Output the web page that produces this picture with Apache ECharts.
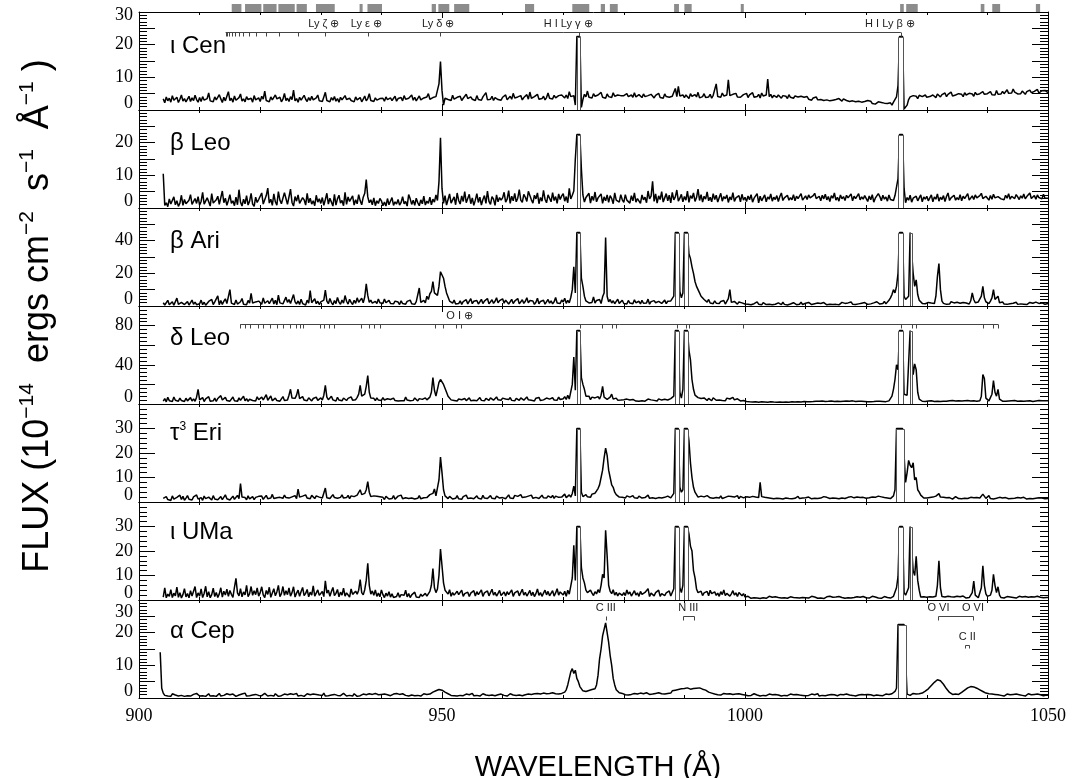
<!DOCTYPE html>
<html><head><meta charset="utf-8">
<script src="https://cdn.jsdelivr.net/npm/echarts@6/dist/echarts.min.js"></script>
<style>html,body{margin:0;padding:0;background:#fff}#c{width:1073px;height:778px}</style>
</head><body><div id="c"></div>
<script>
// ---------------- DATA ----------------
// Flux (1e-14 ergs cm^-2 s^-1 Å^-1). Each row covers 10 Å starting at 900, 910, ... sampled every 0.25 Å.
const WL_START = 900, ROW_SPAN = 10, WL_STEP = 0.25;
const N = null;
const iotaCen = [
[N,N,N,N,N,N,N,N,N,N,N,N,N,N,N,N,3.4,2.2,4.0,2.8, 3.6,2.4,4.4,3.0,2.6,3.9,2.3,3.3,4.6,2.7,3.5,2.5,3.1,4.2,2.6,3.7,2.9,4.5,3.2,2.4],
[3.8,2.6,4.1,3.0,2.4,3.5,5.2,2.8,3.3,2.5,4.0,3.1,2.7,4.7,3.4,2.3,3.9,2.8,3.2,5.6, 2.9,3.6,2.4,4.3,3.0,2.6,3.8,4.9,2.7,3.4,2.5,4.1,3.2,2.8,3.6,2.4,4.4,3.1,2.9,3.7],
[2.6,4.2,3.3,5.8,2.9,3.5,2.5,4.0,3.1,2.7,4.6,3.4,2.8,3.9,2.5,3.3,5.1,2.9,3.6,2.6, 4.1,3.2,6.1,2.8,3.5,2.4,3.9,3.0,2.7,4.5,3.3,2.6,3.8,2.9,4.2,3.1,2.5,3.7,4.6,2.8],
[3.4,2.6,4.0,5.4,2.9,3.3,2.5,3.8,3.0,4.1,2.7,3.5,2.4,3.9,3.1,2.8,4.4,3.2,2.6,3.6, 2.9,3.4,2.5,4.0,3.1,2.7,3.8,2.5,3.3,4.3,2.8,3.5,5.0,2.9,3.2,2.6,3.7,3.0,2.8,3.5],
[3.1,3.6,2.7,4.0,3.2,2.8,3.7,2.9,3.4,4.2,2.7,3.5,3.0,3.8,2.8,4.4,3.3,2.9,3.6,3.1, 4.6,3.0,3.9,2.8,3.4,4.3,3.1,2.9,3.7,3.2,4.0,5.0,3.3,2.9,3.8,3.4,4.1,3.5,8.0,14.8],
[6.0,1.5,3.6,4.1,3.2,3.8,2.9,4.5,3.3,3.0,3.9,3.4,4.2,2.9,3.6,3.1,4.8,3.5,3.0,4.0, 3.3,3.7,2.9,4.4,3.2,3.6,3.0,4.0,3.4,5.3,3.1,3.7,3.3,4.2,2.9,3.8,4.4,3.2,3.6,3.0],
[3.9,3.4,4.6,3.1,3.6,4.2,3.3,5.1,3.7,3.2,4.0,3.5,4.4,3.1,3.8,3.4,4.7,3.3,5.5,3.6, 3.2,4.1,3.7,4.8,3.3,3.9,3.5,4.2,3.1,3.8,5.2,3.6,4.0,3.4,4.5,3.7,3.3,4.4,3.9,4.6],
[4.2,3.7,4.6,3.5,5.6,4.1,3.6,4.4,1.5,22.5,22.5,22.5,0.8,3.2,4.8,4.0,5.8,3.9,4.5,3.7, 5.0,4.2,3.8,4.6,4.0,5.4,3.9,4.3,3.6,4.9,4.1,4.5,3.8,5.3,4.2,3.7,4.6,4.0,4.4,3.9],
[4.4,3.8,5.0,4.1,3.7,4.6,3.9,5.3,4.0,3.6,4.7,4.2,3.8,4.9,4.1,3.5,4.4,3.9,4.8,4.2, 3.7,4.5,4.0,5.1,3.8,4.3,3.6,4.9,4.1,4.6,3.9,4.4,4.2,3.8,6.6,4.1,7.2,4.3,3.9,4.6],
[3.8,4.6,4.1,3.5,5.0,4.2,3.9,4.7,4.0,5.4,3.7,4.3,4.1,5.0,3.8,4.4,4.0,4.8,3.6,4.5, 4.2,8.0,4.1,4.7,3.9,5.2,4.3,4.0,4.6,9.2,4.4,3.9,4.8,4.2,5.1,4.0,4.6,3.9,4.3,4.7],
[4.2,5.1,3.8,4.6,4.0,5.3,3.9,4.4,4.1,4.8,3.7,5.2,4.3,3.9,4.6,9.5,4.1,4.8,3.7,4.5, 4.3,3.9,4.6,4.0,3.6,4.4,3.8,4.2,3.5,4.7,3.9,4.1,3.6,4.3,3.8,4.0,3.4,4.2,3.7,3.9],
[3.5,4.1,3.3,3.9,3.0,3.7,3.4,4.0,3.1,3.6,3.2,3.8,2.9,3.5,3.1,3.4,2.8,3.3,3.0,3.6, 3.2,2.8,3.5,3.0,2.7,3.4,3.1,2.9,3.3,2.6,3.2,2.8,3.0,2.5,3.1,2.7,2.9,2.4,3.0,2.6],
[2.6,2.9,2.3,2.7,2.0,2.4,1.8,2.2,2.5,1.9,2.3,1.7,2.1,1.6,2.0,1.8,2.2,1.5,2.4,3.0, 4.0,7.5,22.5,22.5,22.5,0.3,0.2,1.5,3.2,4.0,3.6,4.4,3.8,4.2,3.5,4.5,3.9,4.1,3.7,4.6],
[3.9,4.5,4.1,3.7,4.6,4.2,3.8,4.9,4.3,4.0,4.7,4.4,5.2,4.1,4.8,4.5,5.5,4.3,4.9,4.6, 4.2,5.0,4.4,4.8,4.1,5.3,4.6,4.3,5.1,4.5,4.9,4.2,5.4,4.7,4.4,5.0,4.6,5.6,4.8,4.5],
[5.0,4.4,5.6,4.7,5.1,4.6,6.0,4.8,5.3,4.9,5.7,5.0,5.4,6.2,5.1,5.6,5.2,6.4,5.5,5.8, 4.9,5.4,5.0,5.8,5.2,4.8,5.6,5.1,6.1,5.3,5.0,5.7,5.4,6.3,5.2,5.5,5.9,5.3,6.0,5.6],
[5.3]];
const betaLeo = [
[N,N,N,N,N,N,N,N,N,N,N,N,N,N,N,N,10.5,0.8,1.6,0.4, 2.8,1.2,0.6,3.4,1.0,2.2,0.5,1.5,3.9,0.8,2.6,1.3,0.7,2.4,4.1,1.1,0.6,2.9,1.4,3.5],
[0.9,2.0,4.8,1.2,0.7,3.1,1.9,0.6,4.4,1.5,0.9,2.5,3.6,1.1,0.5,5.2,1.6,3.0,0.8,2.3, 4.1,1.4,2.2,0.7,3.3,1.0,5.6,1.8,0.6,2.7,1.3,3.8,0.9,2.1,4.5,1.2,0.5,3.3,1.7,2.6],
[2.0,4.6,1.2,0.6,3.8,6.1,1.5,2.7,0.8,4.3,1.9,0.9,5.0,2.4,1.3,0.7,4.7,2.9,1.1,3.4, 5.8,1.7,0.6,3.5,2.1,4.0,1.4,0.8,3.2,2.5,0.9,4.5,1.6,3.0,1.2,2.2,0.7,3.9,1.8,2.8],
[1.4,3.2,0.8,2.6,4.5,1.2,3.0,1.8,0.6,4.2,0.9,2.8,3.9,1.5,2.3,0.7,4.8,1.1,3.4,2.0, 1.6,3.7,0.9,2.5,1.3,4.1,2.2,1.0,3.3,4.5,8.7,3.4,1.6,2.5,1.0,3.1,0.7,2.2,1.4,2.9],
[2.2,0.7,1.8,0.6,2.9,1.0,1.5,3.2,0.8,1.9,1.2,2.6,0.9,1.7,3.5,1.3,2.0,0.6,4.1,2.8, 1.1,2.4,0.8,3.0,1.6,0.7,2.5,1.3,3.6,0.9,2.1,1.4,3.3,1.0,2.7,1.8,4.0,2.3,8.0,21.5],
[6.0,1.4,3.8,0.9,2.6,4.3,1.5,2.1,3.4,1.0,4.6,2.3,1.2,3.7,2.0,5.0,1.6,2.9,4.2,1.3, 3.1,0.8,2.4,4.4,1.7,3.3,0.9,2.6,3.8,1.4,5.2,2.0,1.1,3.5,2.7,0.8,4.0,1.9,3.2,2.4],
[3.1,4.8,1.8,2.7,5.3,1.4,3.6,2.2,4.5,1.9,3.0,5.6,2.4,1.7,4.2,3.3,2.0,5.1,3.8,2.5, 1.5,3.9,2.8,4.6,1.3,3.2,2.1,5.4,2.7,1.6,4.0,3.0,1.9,4.7,2.3,3.5,1.4,4.3,2.6,3.7],
[4.4,2.1,3.5,1.6,6.0,2.8,3.9,5.2,15.0,22.5,22.5,22.5,12.0,4.0,1.8,3.2,2.7,4.5,1.5,3.6, 2.3,4.9,1.9,3.1,2.6,4.3,1.4,3.4,2.2,4.0,1.7,3.8,2.9,1.3,4.6,2.4,3.0,1.8,4.1,2.5],
[1.7,4.1,2.4,3.0,1.5,3.8,2.2,4.6,1.8,2.9,3.5,1.4,4.0,2.5,3.3,1.6,5.2,2.8,3.6,8.2, 2.0,4.3,1.5,3.7,2.6,5.0,1.8,3.1,4.4,2.2,3.9,1.6,4.8,2.5,3.4,5.5,2.1,3.0,4.2,1.9],
[3.5,2.4,5.2,1.7,3.8,2.9,4.6,2.0,3.2,5.8,2.3,4.1,1.8,3.6,2.7,4.9,2.2,3.3,1.9,4.4, 2.6,3.9,1.8,3.2,4.5,2.1,3.5,2.8,4.0,1.7,3.4,2.5,4.7,2.0,3.1,2.6,3.8,1.9,4.2,2.4],
[3.3,2.0,3.7,2.5,4.1,1.8,3.0,2.6,4.4,1.6,3.6,2.2,3.1,4.0,1.9,3.4,2.7,4.3,2.1,3.3, 2.6,3.8,2.0,3.5,4.6,2.3,3.1,2.8,3.9,2.4,3.2,2.5,4.1,2.2,3.6,2.9,3.3,4.4,2.4,3.0],
[3.7,2.6,4.0,3.1,2.7,3.8,4.5,2.9,3.4,3.6,2.2,3.9,2.8,4.2,2.5,3.5,2.0,3.8,3.0,4.6, 2.4,3.3,2.1,4.0,2.8,3.5,2.3,3.9,3.1,2.6,4.3,2.2,3.6,2.9,3.2,4.4,2.5,3.4,2.7,3.8],
[3.3,2.0,3.7,2.5,4.1,1.8,3.0,2.6,4.4,3.5,2.2,3.9,2.7,3.4,2.1,4.0,2.6,3.1,2.3,3.8, 3.5,9.0,22.5,22.5,22.5,6.0,1.6,3.2,2.4,3.9,1.8,3.0,2.5,3.6,2.2,3.1,4.0,1.9,3.4,2.7],
[3.6,2.2,3.1,4.0,1.9,3.4,2.7,4.3,2.1,3.3,2.6,3.8,2.0,3.5,4.6,2.3,3.1,2.8,3.9,2.4, 3.2,2.5,4.1,2.2,3.6,2.9,3.3,4.4,2.4,3.0,3.7,2.6,4.0,3.1,2.7,3.8,4.5,2.9,3.4,3.6],
[3.0,2.4,3.8,2.7,4.2,3.1,2.6,3.5,4.0,2.8,3.3,2.5,3.9,3.0,4.4,2.7,3.6,3.2,2.9,4.1, 3.4,2.6,3.7,3.0,4.3,2.8,3.5,3.1,4.6,2.9,3.3,3.8,2.7,4.0,3.2,3.6,2.8,4.2,3.0,3.4],
[3.0]];
const betaAri = [
[N,N,N,N,N,N,N,N,N,N,N,N,N,N,N,N,2.0,0.6,1.4,3.5, 0.8,1.9,2.6,0.5,1.5,4.8,1.0,0.7,2.2,3.1,0.9,1.6,2.7,0.6,1.3,3.6,1.1,2.4,0.8,1.8],
[1.4,3.6,0.8,2.3,0.5,1.2,2.8,1.6,4.0,0.9,2.5,1.3,6.2,0.7,3.3,1.0,2.9,4.4,1.5,0.6, 10.0,1.8,2.4,0.9,3.7,1.2,0.6,2.6,4.6,1.1,2.0,0.8,3.4,1.7,7.8,1.8,0.9,2.5,1.4,3.0],
[2.4,1.1,5.0,1.7,0.6,3.2,1.4,2.6,4.8,1.2,3.5,0.8,6.6,1.9,2.8,1.3,0.7,5.4,2.2,3.9, 1.6,0.8,7.0,2.5,1.2,3.1,0.9,4.2,1.5,2.7,0.6,3.6,1.8,9.5,2.0,1.1,4.4,1.4,2.9,0.9],
[2.5,1.3,3.6,9.8,3.0,1.4,4.6,2.1,0.8,3.3,1.5,5.2,2.4,1.0,3.7,1.8,6.4,2.9,1.2,4.1, 2.2,0.9,3.5,1.6,5.0,2.3,1.1,4.8,2.0,5.5,13.5,6.5,2.2,3.6,1.7,0.8,2.8,1.5,4.3,2.0],
[2.8,1.5,4.3,2.0,1.2,3.4,1.6,2.5,1.3,3.0,1.8,2.4,0.9,3.2,1.5,2.2,1.1,2.8,1.9,3.6, 1.4,2.3,1.0,2.7,3.5,11.0,2.2,1.6,3.5,1.9,6.0,4.0,7.5,9.0,15.0,8.0,9.0,6.5,12.0,21.0],
[19.0,17.0,12.0,8.0,5.5,3.0,4.2,1.8,3.6,1.2,2.4,1.5,3.2,1.0,2.7,1.6,3.9,1.3,2.2,4.5, 1.4,2.9,1.7,3.4,1.2,2.6,4.1,1.5,3.0,1.8,4.6,1.3,2.5,3.8,1.6,2.9,5.0,1.9,3.3,2.1],
[4.4,1.7,3.6,2.4,1.2,2.6,4.1,1.5,3.0,1.8,4.6,1.3,2.5,3.8,1.6,2.9,5.0,1.9,3.3,2.1, 3.1,1.0,2.3,4.7,1.4,2.8,1.9,3.5,1.1,2.2,4.0,1.7,3.2,1.3,2.6,5.2,1.8,2.9,1.5,3.7],
[2.4,4.8,1.6,3.5,2.0,5.2,10.0,24.0,8.0,45,45,45,17.0,12.0,6.0,3.1,4.2,1.9,3.1,2.2, 5.6,1.8,3.4,2.5,4.0,1.5,5.6,8.0,42.0,6.0,2.5,4.0,1.8,3.2,1.4,2.8,4.1,1.6,2.3,3.5],
[1.5,2.6,1.2,3.4,1.8,2.3,1.4,3.8,2.0,1.6,2.9,1.3,3.5,1.7,2.4,1.9,4.2,1.1,2.7,1.5, 3.3,2.0,1.2,2.8,4.0,1.6,2.2,3.6,1.4,2.9,1.8,3.1,4.2,6.0,45,45,45,9.0,5.0,8.0],
[45,45,45,32.0,29.0,24.0,20.0,15.0,12.0,10.0,8.0,6.0,5.0,4.0,3.5,2.4,4.0,1.8,2.6,1.4, 3.2,1.7,2.2,1.5,2.8,1.6,3.4,1.2,2.0,4.5,10.0,2.2,1.5,2.8,1.6,1.1,2.5,1.3,1.9,0.9],
[1.2,2.3,1.0,1.8,0.8,2.0,1.4,0.9,2.5,1.1,1.6,0.7,2.1,1.3,0.9,1.7,1.0,2.2,0.8,1.5, 1.1,0.7,1.9,1.2,0.8,2.3,1.0,1.5,0.6,1.8,1.2,0.9,2.0,1.4,0.8,1.6,1.1,2.4,0.9,1.3],
[1.7,1.0,2.2,1.3,0.9,1.9,1.4,2.6,1.8,1.0,1.5,0.8,2.1,1.2,0.7,1.6,1.1,2.3,0.9,1.4, 1.0,1.8,0.7,1.3,2.2,1.0,1.6,0.8,1.9,1.2,2.5,1.1,1.5,0.9,2.0,1.3,0.8,1.7,1.2,2.1],
[1.7,1.0,2.2,1.3,0.9,1.9,1.4,2.6,1.8,1.2,2.0,1.5,2.8,1.3,2.2,3.5,5.0,7.0,10.0,8.0, 12.0,20.0,45,45,45,6.0,4.0,5.0,6.0,45,45,20.0,12.0,16.0,7.0,3.5,2.5,1.6,2.2,1.4],
[1.4,2.2,1.1,1.8,2.6,1.5,6.0,18.0,26.0,10.0,3.0,1.6,2.4,1.0,1.8,1.2,2.6,1.5,1.9,1.1, 2.3,1.4,1.7,1.0,2.1,1.3,1.8,2.5,1.2,3.2,8.0,4.0,2.0,1.6,2.5,1.3,6.0,12.0,5.0,2.6],
[2.2,1.5,3.0,5.0,10.0,4.0,3.0,6.0,2.0,1.4,2.5,1.2,1.8,1.0,2.1,1.4,0.9,1.7,1.2,2.3, 1.0,1.6,1.3,2.0,1.1,1.8,0.9,1.5,2.2,1.2,1.7,1.0,2.4,1.3,1.6,0.9,1.9,1.4,1.1,2.0],
[1.5]];
const deltaLeo = [
[N,N,N,N,N,N,N,N,N,N,N,N,N,N,N,N,3.0,5.5,2.2,6.8, 3.4,4.5,2.6,7.2,3.8,5.0,2.9,6.1,3.5,4.8,2.5,5.9,3.2,4.2,6.5,3.0,5.2,2.8,7.0,15.0],
[4.2,3.1,6.5,2.5,5.2,3.6,7.5,2.8,4.4,3.3,6.0,2.6,5.6,3.9,8.5,4.1,3.0,6.8,3.5,5.3, 2.9,4.6,7.2,3.4,5.0,2.7,6.2,3.8,4.5,8.0,3.2,5.5,2.8,4.9,6.6,3.6,5.1,3.0,7.4,4.3],
[2.9,7.0,4.3,3.2,9.5,3.8,5.0,8.2,3.4,4.7,6.0,3.5,5.4,2.9,4.8,7.6,3.6,5.3,4.0,9.0, 15.0,6.0,4.2,5.8,9.0,15.0,5.5,3.6,7.5,4.0,5.8,3.3,6.4,4.5,3.1,5.6,4.1,7.0,3.7,5.0],
[6.2,4.0,9.0,19.0,7.0,4.4,3.5,8.0,4.2,5.5,3.1,6.9,4.0,5.2,3.3,6.1,4.8,3.6,5.7,4.2, 7.3,3.9,5.0,4.4,6.8,10.0,19.0,8.0,6.0,10.0,18.0,29.0,12.0,6.0,4.5,5.8,3.4,6.2,4.0,5.1],
[3.6,6.4,4.1,3.0,5.3,3.8,4.6,2.9,6.0,3.5,4.3,3.1,5.0,3.4,4.8,3.2,7.0,4.0,5.6,3.3, 4.9,3.7,6.2,4.4,3.1,5.5,3.9,4.7,3.0,6.3,4.2,5.0,7.0,12.0,27.0,14.0,8.0,15.0,22.0,25.0],
[24.0,20.0,22.0,12.0,8.0,6.0,4.2,5.5,3.6,4.8,3.0,5.1,3.8,4.4,2.9,5.6,3.5,4.0,6.3,3.3, 4.7,3.9,5.2,3.4,4.5,6.6,3.7,4.9,3.2,5.8,4.1,3.6,6.2,4.4,3.9,5.0,7.2,4.3,5.5,3.8],
[6.0,4.6,5.2,3.4,4.5,6.6,3.7,4.9,3.2,5.8,4.1,3.6,6.2,4.4,3.9,5.0,7.2,4.3,5.5,3.8, 4.8,3.1,5.9,4.0,6.7,3.5,5.3,4.2,3.7,6.1,4.5,5.0,3.4,6.4,4.1,5.6,3.9,7.0,4.6,5.2],
[5.4,7.5,4.6,9.0,5.0,6.5,20.0,48.0,14.0,75,75,75,27.0,20.0,15.0,8.0,6.0,8.0,4.5,7.0, 5.0,6.2,4.4,7.5,5.0,9.0,18.0,7.0,6.5,4.8,5.5,7.0,10.0,5.0,4.6,6.0,3.9,5.2,4.1,3.6],
[4.4,3.2,5.0,3.6,4.1,2.8,4.7,3.5,3.0,4.3,2.7,3.9,3.3,4.6,2.9,3.8,5.0,3.4,4.2,2.9, 3.7,4.5,3.1,5.2,3.6,4.0,2.8,4.8,3.4,4.1,3.0,5.5,4.2,8.0,75,75,75,12.0,6.0,15.0],
[75,75,75,55.0,45.0,25.0,15.0,9.0,7.0,6.5,4.8,5.6,3.9,6.2,4.4,3.6,5.8,4.1,3.3,6.4, 4.6,3.8,5.2,4.0,5.9,3.5,4.7,3.2,6.0,4.3,5.1,3.7,6.8,4.2,3.4,5.3,4.0,3.1,4.6,3.6],
[3.5,2.6,3.0,2.2,3.4,2.0,2.8,2.4,3.2,1.9,2.7,2.3,3.1,2.1,2.5,1.8,2.9,2.2,2.6,2.0, 2.4,1.9,2.8,2.1,2.5,1.7,2.3,2.0,2.7,1.8,2.4,2.2,2.9,2.0,2.6,2.3,3.0,2.1,2.8,2.5],
[2.6,2.2,3.1,2.4,2.9,2.5,3.2,2.7,2.0,2.8,2.3,3.0,2.1,2.6,1.9,2.7,2.4,3.1,2.2,2.5, 2.0,2.9,2.3,2.6,1.8,2.8,2.4,3.0,2.1,2.7,2.5,3.2,2.2,2.6,2.0,2.9,2.4,2.7,2.1,2.5],
[2.6,2.2,3.1,2.4,2.9,2.5,3.2,2.7,2.3,2.8,2.1,2.6,3.0,2.4,2.7,3.2,4.0,8.0,15.0,25.0, 40.0,35.0,75,75,75,10.0,8.0,9.0,10.0,75,75,30.0,41.0,35.0,12.0,5.0,3.5,2.8,3.1,2.6],
[2.5,3.0,2.7,3.3,2.9,2.6,3.4,2.8,3.1,2.6,3.2,2.9,3.5,2.7,3.0,3.3,2.8,3.6,2.5,3.1, 2.8,3.4,2.6,3.0,2.7,3.3,2.9,3.5,2.6,3.1,2.8,3.2,3.0,2.7,3.4,3.2,8.0,30.0,26.0,6.0],
[4.0,3.2,3.5,10.0,24.0,12.0,8.0,15.0,5.0,3.4,2.9,3.2,2.7,3.5,3.0,2.8,3.3,2.9,3.6,3.1, 2.8,3.4,3.0,3.2,2.7,3.5,3.1,2.9,3.4,3.0,2.6,3.3,3.1,2.8,3.5,3.0,3.2,2.9,3.4,3.1],
[3.2]];
const tau3Eri = [
[N,N,N,N,N,N,N,N,N,N,N,N,N,N,N,N,1.5,0.8,2.2,1.0, 1.7,0.6,2.5,1.2,0.9,1.9,1.3,2.8,1.0,2.3,0.7,1.6,2.6,1.1,1.8,0.8,2.1,1.4,2.9,1.2],
[1.1,1.8,0.7,2.4,1.4,1.0,2.0,1.5,0.8,2.6,1.2,1.9,0.9,1.6,2.2,1.0,1.7,2.9,1.3,2.1, 0.8,1.5,2.4,1.1,1.9,2.7,1.4,7.5,2.0,1.2,1.8,0.9,2.5,1.3,1.6,2.2,1.0,1.9,1.4,2.3],
[1.5,2.4,1.1,1.8,2.7,1.3,2.0,1.6,3.1,1.4,2.2,1.7,1.2,1.9,2.5,1.5,2.8,1.8,2.3,1.6, 1.3,2.1,1.7,2.6,1.4,5.3,2.0,1.5,2.4,1.8,2.9,1.6,2.2,1.3,2.7,1.9,1.4,2.5,1.7,2.0],
[2.0,1.6,2.4,5.7,1.7,2.4,1.4,2.1,3.0,1.8,2.6,1.5,2.2,1.9,2.9,1.6,2.3,1.8,2.7,1.4, 2.5,1.7,2.2,1.5,2.8,3.2,5.0,3.0,2.4,3.5,5.0,8.3,4.0,2.2,1.6,2.5,1.9,2.3,1.5,2.1],
[1.3,1.9,1.0,2.3,1.5,1.2,2.0,1.4,2.6,1.1,1.8,2.4,1.6,2.8,1.3,2.1,1.7,2.5,1.4,2.0, 1.6,2.3,1.2,1.9,1.5,2.6,1.3,2.0,1.7,2.4,1.8,2.2,3.0,2.5,3.5,5.3,2.5,3.0,9.0,18.3],
[12.0,5.0,2.5,1.8,1.4,2.3,1.6,1.2,2.0,1.5,2.6,1.3,1.9,1.1,2.2,1.7,2.8,1.4,2.1,1.6, 2.4,1.3,1.8,2.5,1.5,2.0,1.2,2.7,1.6,2.2,1.4,1.9,2.6,1.5,2.1,1.3,2.4,1.8,1.6,2.3],
[1.8,2.5,1.3,2.0,2.9,1.6,2.2,1.4,2.7,1.9,2.3,1.5,3.0,1.8,2.6,2.0,1.7,2.4,2.1,2.8, 1.5,2.2,1.9,2.6,1.4,2.1,2.8,1.7,2.3,1.6,2.5,2.0,1.8,2.7,1.5,2.4,2.2,1.9,2.6,2.0],
[2.3,3.2,1.8,2.5,2.9,2.0,3.5,6.5,2.5,30,30,30,4.0,2.2,1.8,3.0,2.1,2.7,1.9,3.2, 2.6,3.6,4.5,5.5,7.0,10.0,13.0,18.0,22.0,19.0,13.0,10.0,7.0,6.0,4.0,3.0,2.5,2.0,2.8,1.9],
[2.2,1.6,2.5,1.8,2.0,1.4,2.6,1.7,2.1,1.5,2.4,1.9,1.6,2.3,1.8,2.0,2.8,1.5,2.2,1.7, 2.5,1.4,2.0,1.8,2.6,1.6,2.3,1.9,1.5,2.4,2.0,1.7,2.6,3.5,30,30,30,6.0,4.0,5.0],
[30,30,30,25.0,16.0,10.0,6.0,4.0,3.0,2.0,1.6,2.4,1.8,2.1,1.5,2.6,1.9,1.7,2.3,1.5, 2.0,1.8,2.2,1.6,2.5,1.4,2.1,1.9,1.6,2.4,1.7,2.2,1.5,2.0,1.8,2.6,1.4,2.3,1.9,1.7],
[1.6,2.1,1.4,1.9,1.7,2.3,1.5,2.0,1.3,1.8,8.0,2.2,1.4,1.9,1.2,1.7,2.0,1.5,1.8,1.3, 1.9,1.5,2.1,1.4,1.7,1.2,1.9,1.6,2.2,1.4,1.8,1.3,2.0,1.5,1.7,2.3,1.4,1.9,1.6,1.5],
[1.7,1.4,2.0,1.6,1.3,1.9,1.5,2.1,1.4,1.8,1.6,1.3,2.2,1.5,1.9,1.7,1.4,2.0,1.6,1.8, 1.5,2.1,1.3,1.8,1.6,2.0,1.4,1.7,1.9,1.3,2.2,1.5,1.7,1.4,2.0,1.6,1.8,1.3,1.9,1.5],
[1.5,2.1,1.7,1.4,2.0,1.6,1.9,1.3,2.4,1.7,2.1,1.5,1.8,2.3,1.6,2.0,1.4,2.2,2.5,5.0, 30,30,30,30,30,30,8.0,12.0,17.0,15.0,14.0,16.0,9.0,10.0,5.0,4.0,2.8,2.0,1.6,2.2],
[1.6,2.2,1.8,1.4,2.0,1.5,2.4,3.0,3.4,2.0,1.5,1.9,1.4,1.7,1.3,1.8,1.5,1.2,1.9,2.2, 1.6,1.4,1.8,1.3,1.7,1.5,2.0,1.4,1.6,1.9,1.3,1.7,1.5,1.8,1.4,1.6,2.2,3.2,2.4,1.5],
[2.1,2.6,1.4,1.7,1.2,1.8,1.5,1.3,1.9,1.4,1.6,1.2,1.8,1.5,1.3,1.7,1.4,1.6,1.5,1.2, 1.8,1.4,1.6,1.3,1.9,1.5,1.2,1.7,1.4,1.6,1.3,1.8,1.5,1.4,1.7,1.2,1.6,1.5,1.3,1.7],
[1.4]];
const iotaUMa = [
[N,N,N,N,N,N,N,N,N,N,N,N,N,N,N,N,1.2,5.0,0.9,2.4, 1.5,4.2,1.0,2.8,1.7,5.3,1.1,3.0,0.8,2.2,4.6,1.3,2.6,0.9,3.8,1.6,2.1,5.5,1.0,2.9],
[1.6,4.5,1.0,2.7,5.6,1.3,3.4,0.9,2.2,4.8,1.4,3.1,1.0,2.5,5.0,1.2,3.6,2.0,4.4,1.5, 3.9,2.3,1.1,5.2,8.8,2.9,1.7,4.6,1.3,3.3,2.1,6.0,1.4,2.6,5.5,1.9,3.8,2.2,4.9,1.6],
[3.0,5.4,2.1,1.0,3.9,2.3,5.2,1.1,2.9,4.6,1.7,3.3,6.0,1.4,2.6,5.5,1.9,3.8,2.2,4.9, 1.6,3.0,5.4,1.2,2.8,4.0,1.5,3.5,5.1,1.8,2.7,4.3,1.3,3.2,2.0,5.8,1.6,2.4,4.1,1.9],
[2.1,3.5,1.4,7.8,2.8,4.0,1.5,3.5,5.1,1.8,2.7,4.3,1.3,3.2,2.0,4.8,1.6,2.9,3.7,1.2, 4.5,2.3,1.8,3.6,2.4,4.0,8.3,3.0,2.1,4.2,8.0,15.0,6.0,2.4,3.7,1.9,4.1,1.5,2.8,1.3],
[4.1,2.2,1.0,2.8,1.6,3.4,1.2,2.5,1.0,1.8,1.4,3.0,1.1,2.2,1.5,1.9,4.0,1.3,2.6,1.0, 2.1,1.4,3.2,1.2,1.8,1.0,2.4,1.5,1.1,2.7,1.6,2.0,3.5,6.0,12.8,5.0,3.0,4.5,10.0,20.8],
[14.0,7.0,4.0,3.5,2.4,4.2,1.5,3.0,2.0,1.3,3.6,2.2,1.7,4.0,1.5,2.6,1.9,3.2,1.4,2.8, 2.1,3.8,1.6,3.4,2.2,1.8,4.1,1.5,2.9,2.3,3.7,1.7,2.5,4.4,2.0,3.1,1.6,2.7,3.9,1.8],
[2.4,3.3,1.6,3.4,2.2,1.8,4.1,1.5,2.9,2.3,3.7,1.7,2.5,4.4,2.0,3.1,1.6,2.7,3.9,1.8, 3.2,1.4,2.6,4.5,1.9,3.0,1.5,2.8,4.0,2.1,3.5,1.7,2.4,3.8,1.6,2.9,4.6,2.0,3.3,2.6],
[2.0,3.6,1.5,4.0,2.4,3.2,9.0,22.3,8.0,30,30,30,13.2,9.0,7.0,4.0,3.0,2.2,4.0,2.8, 1.8,3.4,2.5,4.2,3.0,6.0,10.5,9.0,28.5,18.0,6.0,3.5,2.6,4.2,2.0,3.1,1.7,2.8,3.6,1.9],
[3.0,1.8,4.1,2.4,3.3,1.6,2.7,3.8,2.0,2.9,1.5,3.5,2.3,1.9,3.1,2.5,4.6,1.4,2.8,3.6, 1.7,3.0,2.2,4.0,1.5,2.6,3.3,1.8,2.9,2.1,3.7,1.6,2.4,4.6,30,30,30,5.0,3.0,6.0],
[30,30,30,27.0,22.0,20.0,12.0,9.0,4.5,3.0,2.2,3.6,1.8,2.9,2.4,3.5,1.7,4.0,2.6,2.0, 3.3,1.9,2.8,1.5,3.4,2.2,4.1,1.8,2.7,3.2,1.6,2.5,3.8,2.0,2.9,1.4,3.1,2.3,1.7,2.6],
[1.2,0.8,1.5,1.0,0.7,1.3,0.9,1.6,0.8,1.1,0.6,1.4,0.9,1.2,0.7,1.0,1.5,0.8,1.1,0.9, 1.3,0.7,1.0,1.4,0.8,1.2,0.9,1.5,0.7,1.1,1.3,0.8,1.0,1.6,0.9,1.2,0.8,1.4,1.0,1.1],
[0.9,1.3,0.8,1.1,1.5,0.9,1.2,1.0,0.7,1.4,0.8,1.2,0.6,1.0,1.3,0.9,1.5,0.8,1.1,0.7, 1.2,0.9,1.4,0.8,1.0,1.3,0.7,1.1,0.9,1.5,0.8,1.2,1.0,0.7,1.3,0.9,1.1,0.8,1.4,1.0],
[0.9,1.3,0.8,1.1,1.5,0.9,1.2,1.0,0.8,1.2,0.7,1.1,1.4,0.9,1.0,1.3,0.8,1.2,1.5,2.0, 5.0,9.5,30,30,30,3.0,2.0,3.5,5.0,30,30,12.0,10.0,17.8,8.0,4.0,1.2,0.9,1.3,0.8],
[1.1,0.8,1.3,0.9,1.2,1.0,1.5,6.0,16.0,5.0,1.4,0.9,1.2,0.8,1.5,1.0,1.3,0.9,1.2,0.8, 1.5,1.0,1.3,0.9,1.6,1.2,0.8,1.4,1.0,1.2,3.0,7.7,2.0,1.3,0.9,1.2,5.0,14.0,6.0,2.5],
[1.5,1.2,2.0,4.0,10.5,6.0,3.0,5.4,2.0,1.0,1.3,0.8,1.1,1.4,0.9,1.2,0.7,1.0,1.3,0.8, 1.1,1.5,0.9,1.2,0.8,1.4,1.0,1.1,0.7,1.3,0.9,1.2,1.0,1.5,0.8,1.1,1.3,0.9,1.2,1.0],
[1.0]];
const alphaCep = [
[N,N,N,N,N,N,N,N,N,N,N,N,N,N,14.0,3.0,1.5,0.8,1.2,0.6, 1.0,0.5,1.3,0.7,0.9,1.4,0.6,1.1,0.8,1.2,0.5,1.0,0.7,1.3,0.6,0.9,1.1,0.5,1.4,0.8],
[0.6,1.0,0.7,1.2,0.5,0.9,1.3,0.6,1.0,0.7,1.2,0.5,0.9,1.4,0.6,1.1,0.8,0.5,1.3,0.7, 1.0,0.6,1.2,0.8,0.5,1.1,0.9,0.6,1.2,0.8,1.5,0.6,1.0,0.7,1.3,0.9,0.6,1.1,1.6,0.8],
[1.2,0.7,1.0,1.4,0.9,0.6,1.2,0.8,1.0,0.6,1.3,0.8,0.5,1.1,0.7,0.9,1.2,0.6,1.0,0.8, 1.3,0.7,1.1,0.9,1.4,0.6,1.0,0.8,1.2,0.5,0.9,1.3,0.7,1.0,0.6,1.2,0.8,1.1,0.7,0.9],
[1.2,0.8,1.5,0.6,1.0,0.7,1.3,0.9,0.6,1.1,1.6,0.8,1.2,0.7,1.0,1.4,0.9,0.6,1.2,0.8, 1.0,0.6,1.3,0.8,0.5,1.1,0.7,0.9,1.2,0.6,1.0,0.8,1.3,0.7,1.1,0.9,1.4,0.8,1.0,0.7],
[1.1,0.7,1.2,0.6,1.0,1.3,0.7,0.9,1.2,0.8,1.4,0.9,1.1,0.7,1.3,1.0,0.8,1.2,0.6,1.0, 0.9,1.3,0.7,1.1,0.8,1.2,0.6,1.0,1.3,0.9,1.1,1.4,1.2,1.5,1.8,1.6,2.2,2.0,2.6,2.8],
[2.4,2.6,1.8,1.5,1.3,1.0,0.8,1.2,0.7,1.0,0.6,1.1,0.8,1.3,0.7,0.9,1.2,0.6,1.0,0.8, 1.4,0.7,1.1,0.8,1.2,0.6,1.0,1.3,0.7,0.9,1.2,0.8,1.4,0.9,1.1,0.7,1.3,1.0,0.8,1.2],
[1.1,0.8,1.2,0.6,1.0,1.3,0.7,0.9,1.2,0.8,1.4,0.9,1.1,0.7,1.3,1.0,0.8,1.2,1.5,1.1, 0.9,1.3,1.0,1.4,0.8,1.2,1.0,1.5,1.1,1.3,0.9,1.4,1.2,1.6,1.0,1.3,1.5,1.2,1.7,1.4],
[1.4,1.8,2.5,4.0,6.0,8.0,9.0,7.5,8.5,6.0,5.0,3.5,3.0,2.2,1.8,2.0,1.6,2.3,1.9,2.6, 2.2,2.8,4.0,7.0,12.0,15.0,19.0,21.0,23.0,20.0,17.0,13.0,10.0,6.0,4.0,2.5,2.0,1.6,1.8,1.4],
[1.2,1.0,1.4,0.9,1.3,1.1,1.0,1.4,0.9,1.2,1.1,1.5,1.0,1.3,1.2,1.6,1.3,1.1,1.5,1.2, 1.0,1.4,1.2,1.6,1.1,1.3,1.5,1.2,1.6,1.4,1.8,1.5,2.2,1.9,2.4,2.1,2.6,2.3,2.8,2.5],
[2.9,2.6,3.1,2.8,2.7,3.2,2.9,2.6,3.0,2.8,3.1,2.5,2.7,2.3,2.4,2.0,1.8,1.9,1.5,1.6, 1.2,1.4,1.0,1.3,0.9,1.1,1.4,0.8,1.2,1.0,1.3,0.9,1.1,0.8,1.2,1.0,1.3,0.7,1.1,0.9],
[0.9,1.2,0.7,1.1,0.8,1.0,1.3,0.7,0.9,1.2,0.6,1.0,0.8,1.1,0.7,0.9,1.2,0.6,1.0,0.8, 1.1,0.7,0.9,1.2,0.6,1.0,0.8,1.1,0.7,0.9,1.2,0.6,1.0,0.8,1.1,0.7,0.9,1.2,0.8,1.0],
[0.7,1.1,0.8,1.0,1.2,0.7,1.0,0.9,1.3,0.6,1.1,0.8,1.0,0.7,1.2,0.9,0.6,1.1,0.8,1.0, 1.2,0.7,0.9,1.1,0.6,1.0,0.8,1.2,0.7,0.9,1.1,0.8,1.0,0.6,1.2,0.9,0.7,1.1,0.8,1.0],
[0.7,1.1,0.8,1.0,1.2,0.7,1.0,0.9,1.3,0.8,1.1,0.7,1.0,1.2,0.8,1.1,0.9,1.3,1.6,2.0, 3.0,22.5,22.5,22.5,22.5,22.5,22.5,1.2,1.0,0.8,1.1,1.4,1.0,1.2,0.9,1.3,1.1,1.5,1.8,2.1],
[2.4,2.8,3.2,3.8,4.4,4.8,5.4,5.6,5.8,5.3,5.0,4.2,3.6,2.8,2.2,1.7,1.4,1.1,1.0,1.2, 0.9,1.1,1.4,1.7,2.0,2.4,2.8,3.1,3.4,3.5,3.6,3.4,3.2,3.0,2.8,2.5,2.4,2.0,1.8,1.5],
[1.8,1.3,1.0,1.2,0.8,1.1,0.7,1.0,1.3,0.8,1.1,0.6,0.9,1.2,0.7,1.0,0.8,1.1,0.9,1.2, 0.7,1.0,1.2,0.8,1.1,0.6,0.9,1.3,0.8,1.0,0.7,1.1,0.9,1.2,0.8,1.0,1.3,0.7,1.1,0.9],
[0.8]];

const starNames = ['ι Cen', 'β Leo', 'β Ari', 'δ Leo', '{a|τ}{s|3}{a| Eri}', 'ι UMa', 'α Cep'];
const spectra = [iotaCen, betaLeo, betaAri, deltaLeo, tau3Eri, iotaUMa, alphaCep];
const yMax = [30, 30, 60, 100, 40, 40, 30];
const yTickStep = [5, 5, 10, 20, 10, 10, 5];
const yTickLabels = [[0,10,20,30],[0,10,20],[0,20,40],[0,40,80],[0,10,20,30],[0,10,20,30],[0,10,20,30]];
const xRange = [900, 1050];
const xTickStep = 50;
// saturated (clipped) lines drawn as open boxes: [from Å, to Å]
const clipLevel = [22.5, 22.5, 45, 75, 30, 30, 22.5];
const clipBoxes = [
  [[972.25,972.8],[1025.3,1026.05]],
  [[972.25,972.8],[1025.3,1026.05]],
  [[972.25,972.8],[988.4,989.05],[990.0,990.55],[1025.3,1026.05],[1027.2,1027.55]],
  [[972.25,972.8],[988.4,989.05],[990.0,990.55],[1025.3,1026.05],[1027.2,1027.55]],
  [[972.25,972.8],[988.4,989.05],[990.0,990.55],[1024.95,1026.3]],
  [[972.25,972.8],[988.4,989.05],[990.0,990.55],[1025.3,1026.05],[1027.2,1027.55]],
  [[1025.2,1026.55]]
];
// grey wavelength bands above the top panel
const greyBands = [[915.3,916.9],[917.5,920.2],[920.5,922.7],[923.0,925.7],[926.0,927.7],[929.2,932.3],
  [936.4,936.9],[937.7,940.1],[948.3,949.0],[949.4,951.2],[952.0,954.5],[963.7,965.2],[971.5,974.3],
  [976.2,976.9],[977.7,979.0],[988.3,989.1],[990.0,991.2],[999.3,999.8],[1025.6,1026.2],[1026.6,1028.5],
  [1038.9,1039.5],[1040.8,1042.1],[1048.0,1048.7]];
// H I Lyman series (Å)
const lymanLines = [1025.72, 972.54, 949.74, 937.80, 930.75, 926.23, 923.15, 920.96, 919.35, 918.13,
  917.18, 916.43, 915.82, 915.33, 914.92, 914.58, 914.29];
const lymanLabels = [[930.75,'Ly ζ ⊕'],[937.80,'Ly ε ⊕'],[949.74,'Ly δ ⊕'],[972.54,'H I Ly γ ⊕'],[1025.72,'H I Ly β ⊕']];
// O I airglow lines (Å)
const oiLines = [916.7,917.5,918.3,919.7,920.5,921.6,922.7,923.8,924.9,925.9,926.6,927.1,929.9,930.6,931.4,932.2,
  936.6,938.0,938.8,939.7,948.8,950.2,952.3,953.1,972.8,976.4,978.0,978.7,988.7,990.3,990.8,999.6,
  1025.8,1027.6,1028.2,1039.3,1041.0,1041.8];
const oiLabel = [950.88, 'O I ⊕'];
// stellar emission line identifications (alpha Cep)
const ionTicks = [977.02];
const ionBrackets = [[989.80, 991.51], [1031.93, 1037.62]];
const ionLabels = [[977.02,'C III'],[990.65,'N III'],[1031.93,'O VI'],[1037.62,'O VI']];
const ciiBracket = [[1036.34, 1037.02]];
const ciiLabel = [[1036.68, 'C II']];

// ---------------- LAYOUT / STYLE ----------------
const SANS = 'Liberation Sans, Arial, Helvetica, sans-serif';
const SERIF = 'Liberation Serif, Times New Roman, serif';
const LEFT = 139, RIGHT = 25, TOP = 12, PANEL_H = 98;
const LYMAN_LEVEL = 24, OI_LEVEL = 82, ION_LEVEL = 25, CII_LEVEL = 16.2;
const zeroShift = 7, topShift = [3, 0, 0, 0, 0, 0, 12];
const nameOffset = [34, 33, 33, 32, 29, 30, 31];
const ANN = '#444';
const LINE_W = 1.5;

const grids = [], xAxes = [], yAxes = [], series = [];
const crisp = v => Math.round(v) + 0.5;

function toPoints(rows) {
  const pts = [];
  rows.forEach((row, r) => row.forEach((v, k) => pts.push([WL_START + r * ROW_SPAN + k * WL_STEP, v])));
  return pts;
}
function custom(gi, data, renderItem, extra) {
  return Object.assign({type: 'custom', coordinateSystem: 'cartesian2d', xAxisIndex: 2 * gi, yAxisIndex: 2 * gi,
    silent: true, animation: false, z: 5, clip: false, data: data, renderItem: renderItem}, extra || {});
}

spectra.forEach((rows, i) => {
  const last = i === spectra.length - 1;
  grids.push({left: LEFT, right: RIGHT, top: TOP + i * PANEL_H, height: PANEL_H, containLabel: false, outerBoundsMode: 'none'});
  const xBase = {
    type: 'value', gridIndex: i, min: xRange[0], max: xRange[1], interval: xTickStep,
    axisLine: {show: true, onZero: false, lineStyle: {color: '#000', width: 1}},
    axisTick: {show: true, inside: true, length: 6, lineStyle: {color: '#000', width: 1}},
    minorTick: {show: true, splitNumber: 5, length: 3, lineStyle: {color: '#000', width: 1}},
    splitLine: {show: false}, minorSplitLine: {show: false}
  };
  xAxes.push(Object.assign({}, xBase, {position: 'bottom',
    axisLabel: {show: last, margin: 9, color: '#000', fontFamily: SERIF, fontSize: 18, showMinLabel: true, showMaxLabel: true,
      formatter: v => String(v)}}));
  xAxes.push(Object.assign({}, xBase, {position: 'top', axisLabel: {show: false}}));
  const labs = yTickLabels[i];
  const topLab = labs[labs.length - 1];
  const isShifted = v => v === 0 || (v === topLab && topShift[i] > 0);
  const yBase = {
    type: 'value', gridIndex: i, min: 0, max: yMax[i], interval: yTickStep[i],
    axisLine: {show: true, onZero: false, lineStyle: {color: '#000', width: 1}},
    axisTick: {show: true, inside: true, length: 16, lineStyle: {color: '#000', width: 1}},
    minorTick: {show: true, splitNumber: 5, length: 8, lineStyle: {color: '#000', width: 1}},
    splitLine: {show: false}, minorSplitLine: {show: false}
  };
  yAxes.push(Object.assign({}, yBase, {position: 'left',
    axisLabel: {show: true, margin: 6, color: '#000', fontFamily: SERIF, fontSize: 18, hideOverlap: false,
      formatter: v => (labs.indexOf(v) < 0 || isShifted(v)) ? '' : String(v)}}));
  yAxes.push(Object.assign({}, yBase, {position: 'right', axisLabel: {show: false}}));

  const xi = 2 * i, yi = 2 * i;
  series.push({
    type: 'line', xAxisIndex: xi, yAxisIndex: yi, showSymbol: false, symbol: 'none', silent: true,
    animation: false, connectNulls: false, clip: true, z: 2, sampling: null,
    lineStyle: {color: '#000', width: LINE_W},
    data: toPoints(rows)
  });
  series.push({
    type: 'custom', coordinateSystem: 'cartesian2d', xAxisIndex: xi, yAxisIndex: yi, silent: true, animation: false, z: 3,
    encode: {x: [0, 1], y: 2},
    data: clipBoxes[i].map(b => [b[0], b[1], clipLevel[i]]),
    renderItem: (params, api) => {
      const a = api.coord([api.value(0), 0]), b = api.coord([api.value(1), api.value(2)]);
      const x0 = crisp(a[0]), x1 = crisp(b[0]), y0 = a[1], y1 = crisp(b[1]);
      return {type: 'group', children: [
        {type: 'rect', shape: {x: x0, y: y1, width: x1 - x0, height: y0 - y1}, style: {fill: '#fff'}},
        {type: 'polyline', shape: {points: [[x0, y0], [x0, y1], [x1, y1], [x1, y0]]}, style: {stroke: '#555', lineWidth: 1, fill: null}}
      ]};
    }
  });
  const shifted = labs.filter(isShifted);
  series.push(custom(i, shifted.map(v => [xRange[0], v]), (p, api) => {
    const v = api.value(1);
    const a = api.coord([api.value(0), v]);
    const dy = v === 0 ? -zeroShift : topShift[i];
    return {type: 'text', x: a[0] - 6, y: a[1] + dy,
      style: {text: String(v), fill: '#000', font: '18px ' + SERIF, fontSize: 18, fontFamily: SERIF,
        align: 'right', verticalAlign: 'middle', textAlign: 'right', textVerticalAlign: 'middle'}};
  }));
});

function ruleWithTicks(gi, lines, level, tickLen) {
  const lo = Math.min.apply(null, lines), hi = Math.max.apply(null, lines);
  series.push(custom(gi, [[lo, hi, level]], (p, api) => {
    const a = api.coord([api.value(0), api.value(2)]), b = api.coord([api.value(1), api.value(2)]);
    return {type: 'line', shape: {x1: a[0], y1: crisp(a[1]), x2: b[0], y2: crisp(a[1])}, style: {stroke: ANN, lineWidth: 1}};
  }, {encode: {x: [0, 1], y: 2}}));
  series.push(custom(gi, lines.map(w => [w, level]), (p, api) => {
    const a = api.coord([api.value(0), api.value(1)]);
    return {type: 'line', shape: {x1: crisp(a[0]), y1: crisp(a[1]), x2: crisp(a[0]), y2: crisp(a[1]) + tickLen}, style: {stroke: ANN, lineWidth: 1}};
  }));
}
function labels(gi, items, level, align, dx, dy, size) {
  series.push(custom(gi, items.map((l, k) => [l[0], level, k]), (p, api) => {
    const a = api.coord([api.value(0), api.value(1)]);
    const t = items[api.value(2)][1];
    return {type: 'text', x: a[0] + dx, y: a[1] + dy,
      style: {text: t, fill: '#222', font: size + 'px ' + SANS, fontSize: size, fontFamily: SANS,
        align: align, verticalAlign: 'middle', textAlign: align, textVerticalAlign: 'middle'}};
  }));
}
function brackets(gi, items, level, legLen) {
  series.push(custom(gi, items.map(b => [b[0], b[1], level]), (p, api) => {
    const a = api.coord([api.value(0), api.value(2)]), b = api.coord([api.value(1), api.value(2)]);
    const y = crisp(a[1]), x0 = crisp(a[0]), x1 = crisp(b[0]);
    return {type: 'polyline', shape: {points: [[x0, y + legLen], [x0, y], [x1, y], [x1, y + legLen]]}, style: {stroke: ANN, lineWidth: 1, fill: null}};
  }, {encode: {x: [0, 1], y: 2}}));
}

series.push(custom(0, greyBands.map(b => [b[0], b[1], yMax[0]]), (p, api) => {
  const a = api.coord([api.value(0), api.value(2)]), b = api.coord([api.value(1), api.value(2)]);
  return {type: 'rect', shape: {x: a[0], y: a[1] - 8, width: Math.max(1, b[0] - a[0]), height: 8}, style: {fill: '#8c8c8c'}};
}, {encode: {x: [0, 1], y: 2}}));
ruleWithTicks(0, lymanLines, LYMAN_LEVEL, 4);
labels(0, lymanLabels, LYMAN_LEVEL, 'right', 14, -8, 11);
ruleWithTicks(3, oiLines, OI_LEVEL, 4);
labels(3, [oiLabel], OI_LEVEL, 'left', -1, -8, 11);
series.push(custom(6, ionTicks.map(w => [w, ION_LEVEL]), (p, api) => {
  const a = api.coord([api.value(0), api.value(1)]);
  return {type: 'line', shape: {x1: crisp(a[0]), y1: crisp(a[1]), x2: crisp(a[0]), y2: crisp(a[1]) + 4}, style: {stroke: ANN, lineWidth: 1}};
}));
brackets(6, ionBrackets, ION_LEVEL, 4);
labels(6, ionLabels, ION_LEVEL, 'center', 0, -8, 11);
brackets(6, ciiBracket, CII_LEVEL, 3);
labels(6, ciiLabel, CII_LEVEL, 'center', 0, -8, 11);

const graphics = [];
starNames.forEach((n, i) => {
  graphics.push({type: 'text', x: 170, y: TOP + i * PANEL_H + nameOffset[i], silent: true,
    style: {text: n, fill: '#000', font: '24px ' + SANS, fontSize: 24, fontFamily: SANS,
      align: 'left', verticalAlign: 'middle', textAlign: 'left', textVerticalAlign: 'middle',
      rich: {a: {fontSize: 24, fontFamily: SANS, fill: '#000', color: '#000'}, s: {fontSize: 12, fontFamily: SANS, verticalAlign: 'top', fill: '#000', color: '#000'}}}});
});
graphics.push({type: 'text', x: 598, y: 768, silent: true,
  style: {text: 'WAVELENGTH (Å)', fill: '#000', font: '29px ' + SANS, fontSize: 29, fontFamily: SANS,
    align: 'center', verticalAlign: 'middle', textAlign: 'center', textVerticalAlign: 'middle'}});
graphics.push({type: 'text', x: 38, y: 316, rotation: Math.PI / 2, silent: true,
  style: {text: '{m|FLUX (10}{s|−14}{m|  ergs cm}{s|−2}{m|  s}{s|−1}{m|  Å}{s|−1}{m| )}', fill: '#000',
    align: 'center', verticalAlign: 'middle', textAlign: 'center', textVerticalAlign: 'middle',
    rich: {m: {fontSize: 36, fontFamily: SANS, fill: '#000', color: '#000', lineHeight: 42},
           s: {fontSize: 21, fontFamily: SANS, fill: '#000', color: '#000', verticalAlign: 'top', lineHeight: 42}}}});

const chart = echarts.init(document.getElementById('c'), null, {renderer: 'canvas'});
chart.setOption({
  animation: false, backgroundColor: '#fff',
  textStyle: {fontFamily: SANS},
  grid: grids, xAxis: xAxes, yAxis: yAxes, series: series, graphic: graphics
});
</script></body></html>
